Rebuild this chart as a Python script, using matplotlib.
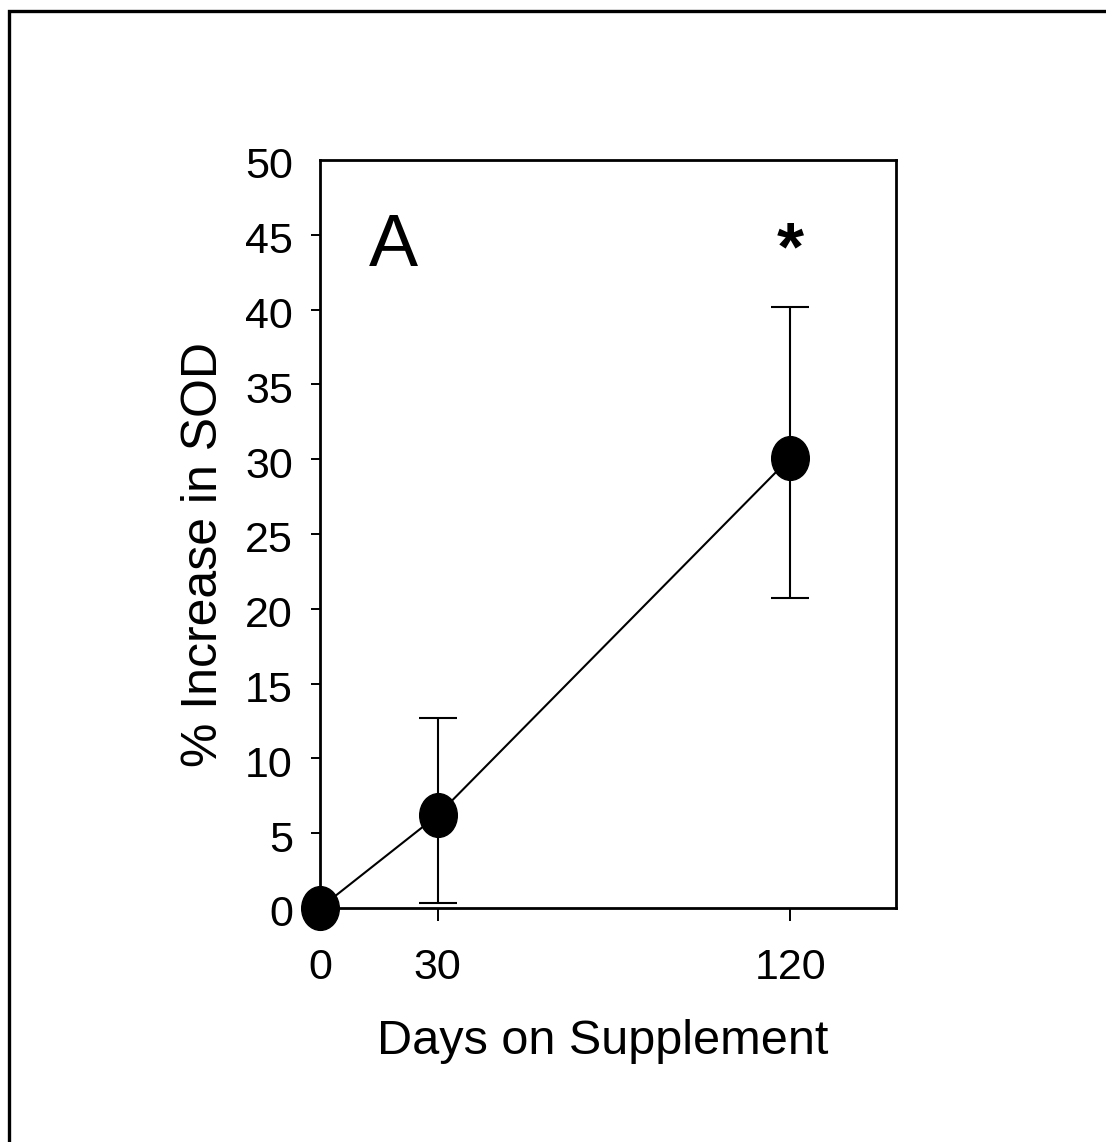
import numpy as np
import matplotlib
matplotlib.use("Agg")
import matplotlib.pyplot as plt
import matplotlib.transforms as mtransforms
from matplotlib.path import Path
from matplotlib.patches import Rectangle

plt.rcParams["font.family"] = ["Liberation Sans", "DejaVu Sans"]

# data
days = [0, 30, 120]
sod_increase = [0.0, 6.2, 30.1]
err_days = [30, 120]
err_mean = [6.2, 30.1]
err_lower = [0.35, 20.7]
err_upper = [12.7, 40.2]
y_ticks = list(range(0, 51, 5))
x_ticks = [0, 30, 120]

fig = plt.figure(figsize=(11.06, 11.42), dpi=100)
ax = fig.add_axes([320 / 1106, 1 - 908 / 1142, 576 / 1106, 748 / 1142])

# outer frame (only left/top edges fall inside the image)
fig.patches.append(Rectangle((9 / 1106, -0.2), 1.5, 1.2 - 11 / 1142,
                             transform=fig.transFigure, fill=False,
                             edgecolor="black", linewidth=2.4, clip_on=False))

# slightly tall ellipse marker
circ = Path.unit_circle()
ell = Path(circ.vertices * np.array([0.86, 1.0]), circ.codes)

ax.plot(days, sod_increase, color="black", lw=1.5, marker=ell,
        markersize=31.5, markerfacecolor="black", markeredgecolor="black",
        clip_on=False, zorder=3)

yerr = np.array([np.subtract(err_mean, err_lower), np.subtract(err_upper, err_mean)])
ax.errorbar(err_days, err_mean, yerr=yerr, fmt="none", ecolor="black",
            elinewidth=1.5, capsize=13.5, capthick=1.5, clip_on=False, zorder=2)

ax.set_xlim(0, 147)
ax.set_ylim(0, 50)
ax.set_xticks(x_ticks)
ax.set_yticks(y_ticks)
ax.tick_params(axis="y", direction="out", length=6.5, width=1.4, pad=13, labelsize=31)
ax.tick_params(axis="x", direction="out", length=9.5, width=1.4, pad=19, labelsize=31)
for t in (ax.yaxis.get_major_ticks()[0], ax.yaxis.get_major_ticks()[-1],
          ax.xaxis.get_major_ticks()[0]):
    t.tick1line.set_visible(False)
for sp in ax.spines.values():
    sp.set_linewidth(2.0)

off = mtransforms.ScaledTranslation(0, -3 / 100, fig.dpi_scale_trans)
for lab in ax.get_yticklabels():
    lab.set_transform(lab.get_transform() + off)

ax.set_ylabel("% Increase in SOD", fontsize=36, va="center", ha="center")
ax.yaxis.set_label_coords(-0.202, 0.472)
ax.set_xlabel("Days on Supplement", fontsize=35, va="center", ha="center")
ax.xaxis.set_label_coords(0.49, -0.178)

ax.text(0.128, 0.858, "A", transform=ax.transAxes, fontsize=53,
        ha="center", va="baseline")
ax.text(120, 43.9, "*", fontsize=50, fontweight="bold", ha="center", va="center")

fig.savefig("out.png", dpi=100)
